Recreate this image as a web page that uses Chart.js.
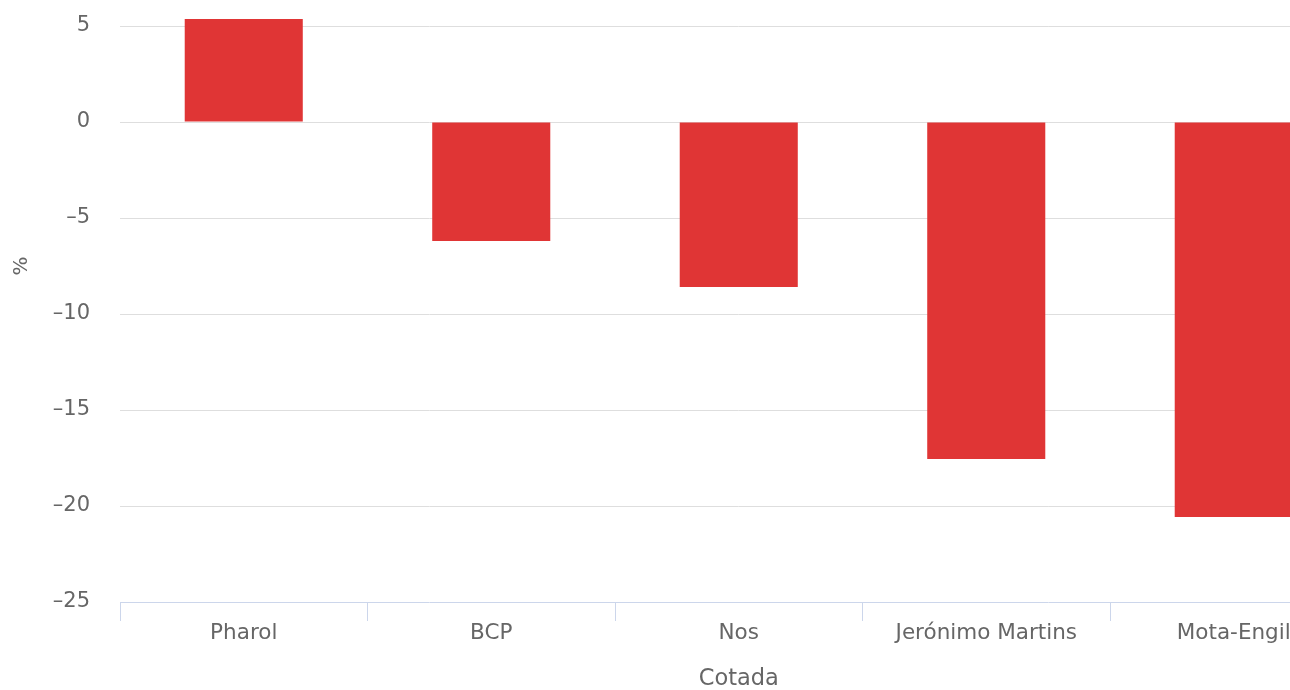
<!DOCTYPE html>
<html>
<head>
<meta charset="utf-8">
<script src="https://cdn.jsdelivr.net/npm/chart.js"></script>
<style>
    html, body { margin: 0; padding: 0; background: #fff; overflow: hidden; width: 1290px; height: 690px; }
    /* the chart is larger than the window and is cut off at the top and right */
    #wrap { position: absolute; left: 0; top: -100px; width: 1400px; height: 800px; }
</style>
</head>
<body>
<div id="wrap"><canvas id="chart"></canvas></div>
<script>
const categories = ['Pharol', 'BCP', 'Nos', 'Jerónimo Martins', 'Mota-Engil'];
const changes = [5.36, -6.2, -8.6, -17.55, -20.57];
const yTicks = [-25, -20, -15, -10, -5, 0, 5, 10];

const textColor = '#666666';
const fontFamily = '"DejaVu Sans", Verdana, sans-serif';

const ctx = document.getElementById('chart');

new Chart(ctx, {
    type: 'bar',
    data: {
        labels: categories,
        datasets: [{
            label: '%',
            data: changes,
            backgroundColor: '#e03535',
            borderWidth: 0,
            categoryPercentage: 1,
            barPercentage: 0.477
        }]
    },
    options: {
        responsive: true,
        maintainAspectRatio: false,
        animation: false,
        layout: {
            padding: { top: 30, right: 42.5, bottom: 7, left: 0 }
        },
        plugins: {
            legend: { display: false },
            tooltip: { enabled: false }
        },
        scales: {
            x: {
                grid: {
                    offset: true,
                    drawOnChartArea: false,
                    drawTicks: true,
                    tickLength: 19,
                    color: '#ccd6eb'
                },
                border: { display: true, color: '#ccd6eb', width: 1 },
                ticks: {
                    color: textColor,
                    font: { family: fontFamily, size: 21.5 },
                    padding: 0,
                    maxRotation: 0,
                    autoSkip: false
                },
                title: {
                    display: true,
                    text: 'Cotada',
                    color: textColor,
                    font: { family: fontFamily, size: 22.5 },
                    padding: 0
                },
                afterFit: axis => { axis.height = 91; }
            },
            y: {
                min: yTicks[0],
                max: yTicks[yTicks.length - 1],
                afterBuildTicks: axis => {
                    axis.ticks = yTicks.map(v => ({ value: v }));
                },
                grid: {
                    // invisible tick marks make the gap between labels and plot
                    drawTicks: true,
                    tickLength: 30,
                    tickColor: 'rgba(0,0,0,0)',
                    color: c => (c.tick && c.tick.value === yTicks[0]) ? 'rgba(0,0,0,0)' : '#dedede',
                    lineWidth: 1
                },
                border: { display: false },
                ticks: {
                    color: textColor,
                    font: { family: fontFamily, size: 21 },
                    padding: 0,
                    callback: v => String(v).replace('-', '\u2013')
                },
                title: {
                    display: true,
                    text: '%',
                    color: textColor,
                    font: { family: fontFamily, size: 20 },
                    padding: { top: 10, bottom: 0 }
                },
                afterFit: axis => { axis.width = 120; }
            }
        }
    }
});
</script>
</body>
</html>
